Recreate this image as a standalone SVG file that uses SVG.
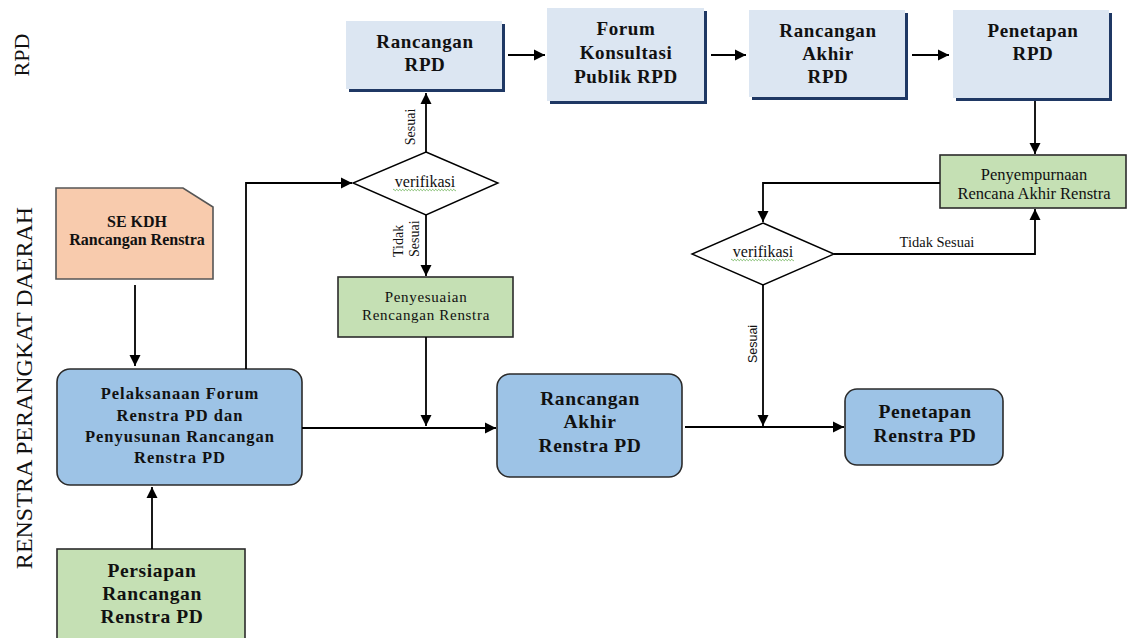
<svg xmlns="http://www.w3.org/2000/svg" width="1134" height="638" viewBox="0 0 1134 638">
<defs>
<marker id="ah" markerUnits="userSpaceOnUse" markerWidth="12" markerHeight="12" refX="11" refY="6" orient="auto">
<path d="M0,0.5 L11,6 L0,11.5 z" fill="#000"/>
</marker>
<style>
.bg{fill:#ffffff}
.top{fill:#DCE6F2}
.shd{fill:#1F3864}
.blue{fill:#9DC3E6;stroke:#2b2b2b;stroke-width:1.6}
.green{fill:#C5E0B4;stroke:#2b2b2b;stroke-width:1.6}
.orange{fill:#F8CBAD;stroke:#555555;stroke-width:1.6}
.dia{fill:#ffffff;stroke:#000;stroke-width:1.4}
.conn path{fill:none;stroke:#000;stroke-width:1.8}
.b{font-family:"Liberation Serif","Times New Roman",serif;font-weight:bold;fill:#111;text-anchor:middle}
.r{font-family:"Liberation Serif","Times New Roman",serif;fill:#111;text-anchor:middle}
.s{font-family:"Liberation Sans",Arial,sans-serif;fill:#111;text-anchor:middle}
.wave{fill:none;stroke:#5DAA45;stroke-width:0.8}
</style>
</defs>
<rect class="bg" x="0" y="0" width="1134" height="638"/>

<g id="lane-labels">
<text class="r" font-size="22" transform="translate(29,55) rotate(-90)">RPD</text>
<text class="r" font-size="24" transform="translate(32,388) rotate(-90)">RENSTRA PERANGKAT DAERAH</text>
</g>

<g id="rancangan-rpd">
<rect class="shd" x="349" y="24" width="156" height="68"/>
<rect class="top" x="346" y="21" width="156" height="68"/>
<text class="b" font-size="19" letter-spacing="0.6" x="425" y="48">Rancangan</text>
<text class="b" font-size="19" letter-spacing="0.6" x="425" y="71">RPD</text>
</g>

<g id="forum-konsultasi">
<rect class="shd" x="550" y="11" width="157" height="93"/>
<rect class="top" x="547" y="8" width="157" height="93"/>
<text class="b" font-size="19" letter-spacing="0.6" x="626" y="35">Forum</text>
<text class="b" font-size="19" letter-spacing="0.6" x="626" y="59">Konsultasi</text>
<text class="b" font-size="19" letter-spacing="0.6" x="626" y="83">Publik RPD</text>
</g>

<g id="rancangan-akhir-rpd">
<rect class="shd" x="752" y="13" width="156" height="87"/>
<rect class="top" x="749" y="10" width="156" height="87"/>
<text class="b" font-size="19" letter-spacing="0.6" x="828" y="37">Rancangan</text>
<text class="b" font-size="19" letter-spacing="0.6" x="828" y="60">Akhir</text>
<text class="b" font-size="19" letter-spacing="0.6" x="828" y="83">RPD</text>
</g>

<g id="penetapan-rpd">
<rect class="shd" x="956" y="13" width="156" height="88"/>
<rect class="top" x="953" y="10" width="156" height="88"/>
<text class="b" font-size="19" letter-spacing="0.6" x="1033" y="37">Penetapan</text>
<text class="b" font-size="19" letter-spacing="0.6" x="1033" y="60">RPD</text>
</g>

<g id="penyempurnaan">
<rect class="green" x="940" y="155" width="186" height="53"/>
<text class="r" font-size="16.5" x="1034" y="180">Penyempurnaan</text>
<text class="r" font-size="16.5" x="1034" y="199">Rencana Akhir Renstra</text>
</g>

<g id="verifikasi-kanan">
<polygon class="dia" points="763,223 834,254 763,285 692,254"/>
<text class="r" font-size="16" x="763" y="257">verifikasi</text>
<path class="wave" d="M731 260 q0.75 -1.4 1.5 0 t1.5 0 t1.5 0 t1.5 0 t1.5 0 t1.5 0 t1.5 0 t1.5 0 t1.5 0 t1.5 0 t1.5 0 t1.5 0 t1.5 0 t1.5 0 t1.5 0 t1.5 0 t1.5 0 t1.5 0 t1.5 0 t1.5 0 t1.5 0 t1.5 0 t1.5 0 t1.5 0 t1.5 0 t1.5 0 t1.5 0 t1.5 0 t1.5 0 t1.5 0 t1.5 0 t1.5 0 t1.5 0 t1.5 0 t1.5 0 t1.5 0 t1.5 0 t1.5 0 t1.5 0 t1.5 0 t1.5 0 t1.5 0"/>
</g>

<g id="se-kdh">
<path class="orange" d="M56,188 H183 L213,207 V279 H56 Z"/>
<text class="b" font-size="16" x="137" y="227">SE KDH</text>
<text class="b" font-size="16" x="137" y="245">Rancangan Renstra</text>
</g>

<g id="pelaksanaan-forum">
<rect class="blue" x="57" y="369" width="245" height="116" rx="13" ry="13"/>
<text class="b" font-size="16.5" letter-spacing="1" x="180" y="399">Pelaksanaan Forum</text>
<text class="b" font-size="16.5" letter-spacing="1" x="180" y="421">Renstra PD dan</text>
<text class="b" font-size="16.5" letter-spacing="1" x="180" y="442">Penyusunan Rancangan</text>
<text class="b" font-size="16.5" letter-spacing="1" x="180" y="463">Renstra PD</text>
</g>

<g id="verifikasi-kiri">
<polygon class="dia" points="426,152 498,183 426,215 353,183"/>
<text class="r" font-size="16" x="425" y="187">verifikasi</text>
<path class="wave" d="M393 190 q0.75 -1.4 1.5 0 t1.5 0 t1.5 0 t1.5 0 t1.5 0 t1.5 0 t1.5 0 t1.5 0 t1.5 0 t1.5 0 t1.5 0 t1.5 0 t1.5 0 t1.5 0 t1.5 0 t1.5 0 t1.5 0 t1.5 0 t1.5 0 t1.5 0 t1.5 0 t1.5 0 t1.5 0 t1.5 0 t1.5 0 t1.5 0 t1.5 0 t1.5 0 t1.5 0 t1.5 0 t1.5 0 t1.5 0 t1.5 0 t1.5 0 t1.5 0 t1.5 0 t1.5 0 t1.5 0 t1.5 0 t1.5 0 t1.5 0 t1.5 0"/>
</g>

<g id="penyesuaian">
<rect class="green" x="338" y="277" width="175" height="60"/>
<text class="r" font-size="15" letter-spacing="0.7" x="426" y="302">Penyesuaian</text>
<text class="r" font-size="15" letter-spacing="0.7" x="426" y="320">Rencangan Renstra</text>
</g>

<g id="rancangan-akhir-renstra">
<rect class="blue" x="497" y="374" width="185" height="103" rx="13" ry="13"/>
<text class="b" font-size="19.5" letter-spacing="0.6" x="590" y="405">Rancangan</text>
<text class="b" font-size="19.5" letter-spacing="0.6" x="590" y="428">Akhir</text>
<text class="b" font-size="19.5" letter-spacing="0.6" x="590" y="452">Renstra PD</text>
</g>

<g id="penetapan-renstra">
<rect class="blue" x="845" y="389" width="158" height="76" rx="12" ry="12"/>
<text class="b" font-size="19.5" letter-spacing="0.6" x="925" y="418">Penetapan</text>
<text class="b" font-size="19.5" letter-spacing="0.6" x="925" y="442">Renstra PD</text>
</g>

<g id="persiapan">
<rect class="green" x="57" y="549" width="188" height="100"/>
<text class="b" font-size="19.5" letter-spacing="0.6" x="152" y="577">Persiapan</text>
<text class="b" font-size="19.5" letter-spacing="0.6" x="152" y="600">Rancangan</text>
<text class="b" font-size="19.5" letter-spacing="0.6" x="152" y="623">Renstra PD</text>
</g>

<g id="connectors" class="conn">
<path d="M508,55 H545" marker-end="url(#ah)"/>
<path d="M711,55 H746" marker-end="url(#ah)"/>
<path d="M912,55 H949" marker-end="url(#ah)"/>
<path d="M1035,101 V154" marker-end="url(#ah)"/>
<path d="M940,183 H763 V222" marker-end="url(#ah)"/>
<path d="M834,254 H1035 V209" marker-end="url(#ah)"/>
<path d="M763,285 V426" marker-end="url(#ah)"/>
<path d="M135,285 V366" marker-end="url(#ah)"/>
<path d="M152,549 V487" marker-end="url(#ah)"/>
<path d="M246,369 V183 H352" marker-end="url(#ah)"/>
<path d="M426,152 V93" marker-end="url(#ah)"/>
<path d="M426,215 V276" marker-end="url(#ah)"/>
<path d="M426,337 V426" marker-end="url(#ah)"/>
<path d="M302,428 H496" marker-end="url(#ah)"/>
<path d="M685,427 H844" marker-end="url(#ah)"/>
</g>

<g id="connector-labels">
<text class="r" font-size="14" transform="translate(415,127) rotate(-90)">Sesuai</text>
<text class="r" font-size="14" style="text-anchor:start" transform="translate(403,257) rotate(-90)">Tidak</text>
<text class="r" font-size="14" style="text-anchor:start" transform="translate(419,257) rotate(-90)">Sesuai</text>
<text class="r" font-size="14.5" x="937" y="247">Tidak Sesuai</text>
<text class="s" font-size="12.5" transform="translate(757,344) rotate(-90)">Sesuai</text>
</g>
</svg>
